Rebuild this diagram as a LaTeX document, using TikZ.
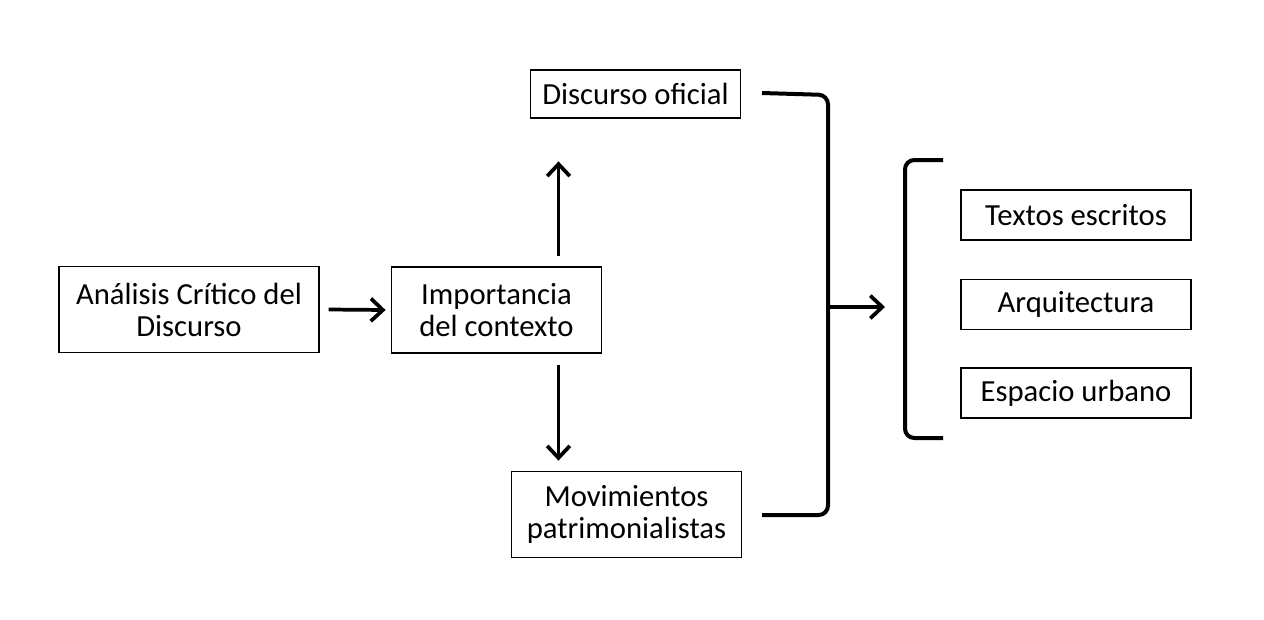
\documentclass[tikz,border=0pt]{standalone}
\usepackage{fontspec}
\setmainfont{Carlito}
\usetikzlibrary{arrows.meta,calc}

\begin{document}
\begin{tikzpicture}[x=0.75pt,y=-0.75pt,thick,
    box/.style={draw,line width=0.9pt,align=center,inner sep=0pt,font=\fontsize{23}{24}\selectfont},
    arr/.style={line width=2.8pt,-{Straight Barb[length=9pt,width=17pt,line width=2.8pt]}},
    brace/.style={line width=3pt,rounded corners=7pt}]
        \useasboundingbox (0,0) rectangle (1264,619);
        \node [box, minimum width=195pt, minimum height=65pt] (acd) at (189,309.5) {An\'alisis Cr\'itico del\\Discurso};
        \node [box, minimum width=158pt, minimum height=64.5pt] (imp) at (496.5,310) {Importancia\\del contexto};
        \node [box, minimum width=158pt, minimum height=36pt] (dof) at (635.5,94) {Discurso oficial};
        \node [box, minimum width=172pt, minimum height=64pt] (mov) at (626.5,514.5) {Movimientos\\patrimonialistas};
        \node [box, minimum width=172.5pt, minimum height=37.5pt] (tex) at (1076,215) {Textos escritos};
        \node [box, minimum width=172.5pt, minimum height=37pt] (arq) at (1076,304.5) {Arquitectura};
        \node [box, minimum width=172.5pt, minimum height=37.5pt] (esp) at (1076,393) {Espacio urbano};
        % arrows out of the context box
        \path [draw, arr] ($(acd.east)+(9,0)$) -- ($(imp.west)+(-5,0)$);
        \path [draw, arr] ($(imp.north)+(62,-10)$) -- ($(imp.north)+(62,-105)$);
        \path [draw, arr] ($(imp.south)+(62,11)$) -- ($(imp.south)+(62,107)$);
        % bracket joining both branches
        \coordinate (b1) at (762,93);
        \coordinate (b2) at (762,515);
        \coordinate (bm) at (828,307);
        \coordinate (bo) at (885,307);
        \draw [brace] (b1) -- (828,95) -- (828,515) -- (b2);
        \path [draw, arr] (bm) -- (bo);
        % bracket round the three results
        \coordinate (c1) at (943,160);
        \coordinate (c2) at (943,438);
        \draw [brace] (c1) -- (905,160) -- (905,438) -- (c2);
    \end{tikzpicture}
\end{document}
